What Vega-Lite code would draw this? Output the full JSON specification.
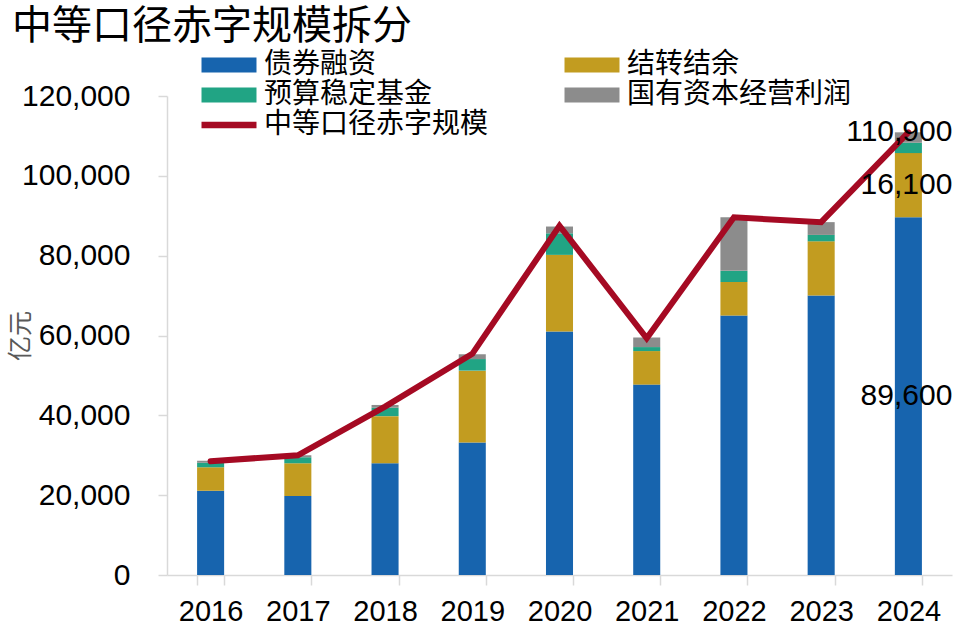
{
  "$schema": "https://vega.github.io/schema/vega-lite/v6.json",
  "width": 785,
  "height": 479,
  "autosize": {"type": "none"},
  "padding": {"left": 167, "top": 96, "right": 8, "bottom": 56},
  "background": "white",
  "title": {
    "text": "中等口径赤字规模拆分",
    "anchor": "start",
    "frame": "group",
    "font": "Noto Sans CJK SC",
    "fontSize": 40,
    "fontWeight": "normal",
    "color": "#000000",
    "dx": -155,
    "offset": 4
  },
  "datasets": {
    "bars": [
      {"year": "2016", "series": "债券融资", "ord": 1, "value": 21100},
      {"year": "2016", "series": "结转结余", "ord": 2, "value": 5900},
      {"year": "2016", "series": "预算稳定基金", "ord": 3, "value": 1100},
      {"year": "2016", "series": "国有资本经营利润", "ord": 4, "value": 500},
      {"year": "2017", "series": "债券融资", "ord": 1, "value": 19800},
      {"year": "2017", "series": "结转结余", "ord": 2, "value": 8200},
      {"year": "2017", "series": "预算稳定基金", "ord": 3, "value": 1500},
      {"year": "2017", "series": "国有资本经营利润", "ord": 4, "value": 500},
      {"year": "2018", "series": "债券融资", "ord": 1, "value": 28000},
      {"year": "2018", "series": "结转结余", "ord": 2, "value": 11800},
      {"year": "2018", "series": "预算稳定基金", "ord": 3, "value": 2100},
      {"year": "2018", "series": "国有资本经营利润", "ord": 4, "value": 700},
      {"year": "2019", "series": "债券融资", "ord": 1, "value": 33200},
      {"year": "2019", "series": "结转结余", "ord": 2, "value": 18000},
      {"year": "2019", "series": "预算稳定基金", "ord": 3, "value": 2900},
      {"year": "2019", "series": "国有资本经营利润", "ord": 4, "value": 1200},
      {"year": "2020", "series": "债券融资", "ord": 1, "value": 61000},
      {"year": "2020", "series": "结转结余", "ord": 2, "value": 19200},
      {"year": "2020", "series": "预算稳定基金", "ord": 3, "value": 5400},
      {"year": "2020", "series": "国有资本经营利润", "ord": 4, "value": 1700},
      {"year": "2021", "series": "债券融资", "ord": 1, "value": 47700},
      {"year": "2021", "series": "结转结余", "ord": 2, "value": 8400},
      {"year": "2021", "series": "预算稳定基金", "ord": 3, "value": 1000},
      {"year": "2021", "series": "国有资本经营利润", "ord": 4, "value": 2400},
      {"year": "2022", "series": "债券融资", "ord": 1, "value": 65000},
      {"year": "2022", "series": "结转结余", "ord": 2, "value": 8400},
      {"year": "2022", "series": "预算稳定基金", "ord": 3, "value": 2800},
      {"year": "2022", "series": "国有资本经营利润", "ord": 4, "value": 13400},
      {"year": "2023", "series": "债券融资", "ord": 1, "value": 70000},
      {"year": "2023", "series": "结转结余", "ord": 2, "value": 13600},
      {"year": "2023", "series": "预算稳定基金", "ord": 3, "value": 1600},
      {"year": "2023", "series": "国有资本经营利润", "ord": 4, "value": 3200},
      {"year": "2024", "series": "债券融资", "ord": 1, "value": 89600},
      {"year": "2024", "series": "结转结余", "ord": 2, "value": 16100},
      {"year": "2024", "series": "预算稳定基金", "ord": 3, "value": 2600},
      {"year": "2024", "series": "国有资本经营利润", "ord": 4, "value": 2600}
    ],
    "line": [
      {"year": "2016", "value": 28500},
      {"year": "2017", "value": 30000},
      {"year": "2018", "value": 42200},
      {"year": "2019", "value": 55400},
      {"year": "2020", "value": 87500},
      {"year": "2021", "value": 59300},
      {"year": "2022", "value": 89600},
      {"year": "2023", "value": 88400},
      {"year": "2024", "value": 110900}
    ]
  },
  "encoding": {
    "x": {
      "field": "year",
      "type": "ordinal",
      "title": null,
      "scale": {"paddingInner": 0.69, "paddingOuter": 0.345}
    }
  },
  "layer": [
    {
      "data": {"name": "bars"},
      "mark": {"type": "bar"},
      "encoding": {
        "y": {
          "field": "value",
          "type": "quantitative",
          "stack": "zero",
          "title": "亿元",
          "scale": {"domain": [0, 120000], "nice": false},
          "axis": {"values": [0, 20000, 40000, 60000, 80000, 100000, 120000], "format": ",.0f"}
        },
        "order": {"field": "ord", "type": "quantitative", "sort": "ascending"},
        "color": {
          "field": "series",
          "type": "nominal",
          "scale": {
            "domain": ["债券融资", "预算稳定基金", "中等口径赤字规模", "结转结余", "国有资本经营利润"],
            "range": ["#1764AE", "#21A484", "#A50A23", "#C29C20", "#8C8C8C"]
          },
          "legend": {
            "orient": "none",
            "legendX": 48,
            "legendY": -45,
            "columns": 2,
            "columnPadding": 75,
            "rowPadding": 2,
            "title": null,
            "labelFont": "Noto Sans CJK SC",
            "labelFontSize": 28,
            "labelColor": "#000000",
            "labelLimit": 400,
            "labelOffset": 21,
            "symbolType": "M-2,-0.54H2V0.54H-2Z",
            "symbolSize": 756,
            "symbolStrokeWidth": 0,
            "symbolOpacity": 1,
            "encode": {
              "symbols": {
                "update": {
                  "shape": [
                    {"test": "datum.value === '中等口径赤字规模'", "value": "M-2,-0.24H2V0.24H-2Z"},
                    {"value": "M-2,-0.54H2V0.54H-2Z"}
                  ]
                }
              }
            }
          }
        }
      }
    },
    {
      "data": {"name": "line"},
      "mark": {"type": "line", "color": "#A50A23", "strokeWidth": 6, "strokeCap": "round", "strokeJoin": "miter"},
      "encoding": {
        "y": {
          "field": "value",
          "type": "quantitative",
          "title": "亿元",
          "axis": {"values": [0, 20000, 40000, 60000, 80000, 100000, 120000], "format": ",.0f"}
        }
      }
    },
    {
      "data": {"name": "bars"},
      "transform": [
        {"stack": "value", "groupby": ["year"], "sort": [{"field": "ord", "order": "ascending"}], "as": ["v0", "v1"]},
        {"filter": "datum.year === '2024' && datum.ord <= 2"},
        {"calculate": "(datum.v0 + datum.v1) / 2", "as": "mid"}
      ],
      "mark": {"type": "text", "align": "right", "baseline": "middle", "dx": 44, "font": "Liberation Sans", "fontSize": 30, "color": "#000000"},
      "encoding": {
        "y": {
          "field": "mid",
          "type": "quantitative",
          "title": "亿元",
          "axis": {"values": [0, 20000, 40000, 60000, 80000, 100000, 120000], "format": ",.0f"}
        },
        "text": {"field": "value", "type": "quantitative", "format": ",.0f"}
      }
    },
    {
      "data": {"name": "line"},
      "transform": [{"filter": "datum.year === '2024'"}],
      "mark": {"type": "text", "align": "right", "baseline": "middle", "dx": 44, "font": "Liberation Sans", "fontSize": 30, "color": "#000000"},
      "encoding": {
        "y": {
          "field": "value",
          "type": "quantitative",
          "title": "亿元",
          "axis": {"values": [0, 20000, 40000, 60000, 80000, 100000, 120000], "format": ",.0f"}
        },
        "text": {"field": "value", "type": "quantitative", "format": ",.0f"}
      }
    }
  ],
  "config": {
    "view": {"stroke": null},
    "axisX": {
      "labelAngle": 0,
      "tickBand": "extent",
      "tickSize": 10,
      "labelPadding": 12,
      "labelFont": "Liberation Sans",
      "labelFontSize": 29,
      "labelColor": "#000000",
      "domainColor": "#D9D9D9",
      "domainWidth": 1.5,
      "tickColor": "#D9D9D9",
      "tickWidth": 1.5,
      "grid": false
    },
    "axisY": {
      "tickSize": 9,
      "labelPadding": 28,
      "labelFont": "Liberation Sans",
      "labelFontSize": 30,
      "labelColor": "#000000",
      "domainColor": "#D9D9D9",
      "domainWidth": 1.5,
      "tickColor": "#D9D9D9",
      "tickWidth": 1.5,
      "grid": false,
      "titleFont": "Noto Sans CJK SC",
      "titleFontSize": 25,
      "titleFontWeight": "normal",
      "titleColor": "#595959",
      "titleAngle": -90,
      "titleX": -147,
      "titleBaseline": "middle"
    }
  }
}
